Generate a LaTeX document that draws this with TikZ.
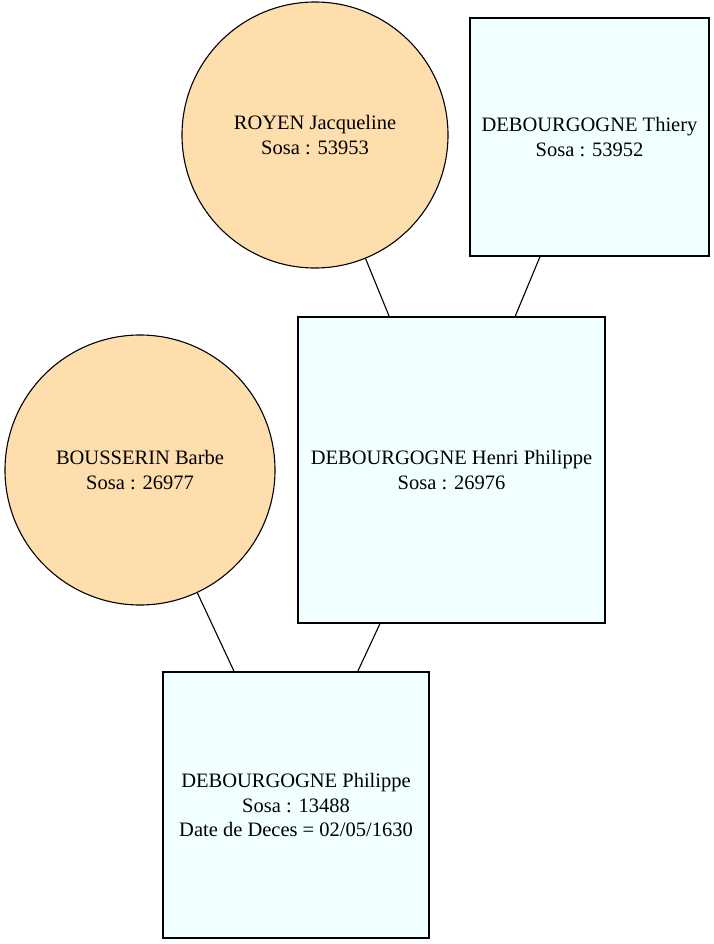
\documentclass[tikz,border=0pt]{standalone}
\usepackage{fontspec}
\setmainfont{Liberation Serif}
\definecolor{femme}{HTML}{FFDEAD}
\definecolor{homme}{HTML}{F0FFFF}
\tikzset{
  person/.style={draw=black, line width=1.1bp, align=center, inner sep=0pt,
    font=\fontsize{20.5bp}{24.5bp}\selectfont},
  woman/.style={person, circle, fill=femme},
  man/.style={person, rectangle, fill=homme},
  link/.style={draw=black, line width=1.1bp}
}
\begin{document}
\begin{tikzpicture}[x=1bp, y=-1bp]
  \useasboundingbox (0,0) rectangle (714,944);
  % ancestors
  \node[woman, minimum size=266bp] (royen) at (315,135) {ROYEN Jacqueline\\Sosa : 53953};
  \node[man, minimum width=239bp, minimum height=238bp] (thiery) at (589.5,137) {DEBOURGOGNE Thiery\\Sosa : 53952};
  \node[man, minimum width=307bp, minimum height=306bp] (henri) at (451.5,470) {DEBOURGOGNE Henri Philippe\\Sosa : 26976};
  \node[woman, minimum size=270bp] (barbe) at (140,470) {BOUSSERIN Barbe\\Sosa : 26977};
  \node[man, minimum width=266bp, minimum height=266bp] (philippe) at (296,805) {DEBOURGOGNE Philippe\\Sosa : 13488\\Date de Deces = 02/05/1630};
  % parent links
  \draw[link] (royen) -- (henri);
  \draw[link] (thiery) -- (henri);
  \draw[link] (barbe) -- (philippe);
  \draw[link] (henri) -- (philippe);
\end{tikzpicture}
\end{document}
